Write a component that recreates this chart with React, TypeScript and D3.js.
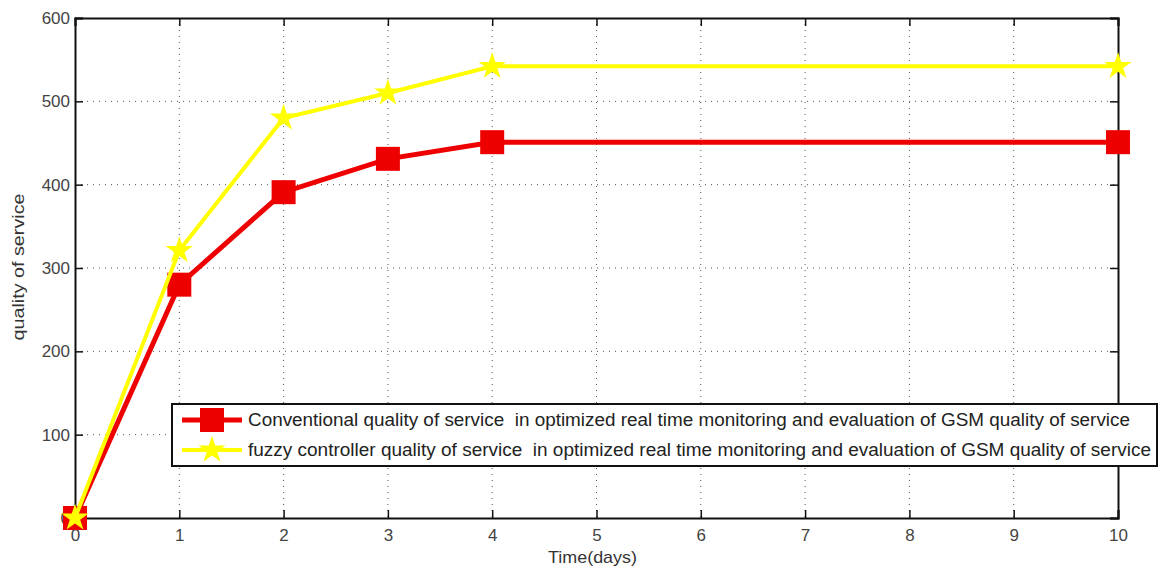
import React, { useEffect, useRef } from "react";
import * as d3 from "d3";

const days = [0, 1, 2, 3, 4, 10];
const conventional = [0, 280, 391, 431, 451, 451];
const fuzzy = [0, 321, 480, 510, 542, 542];
const xTicks = [0, 1, 2, 3, 4, 5, 6, 7, 8, 9, 10];
const yTicks = [0, 100, 200, 300, 400, 500, 600];
const seriesNames = [
  "Conventional quality of service  in optimized real time monitoring and evaluation of GSM quality of service",
  "fuzzy controller quality of service  in optimized real time monitoring and evaluation of GSM quality of service",
];

const W = 1159;
const H = 570;

const App = () => {
  const svgRef = useRef<SVGSVGElement>(null);

  useEffect(() => {
    const svg = d3.select(svgRef.current);
    svg.selectAll("*").remove();

    const margin = { top: 18, right: 41, bottom: 52, left: 75 };
    const width = W - margin.left - margin.right;
    const height = H - margin.top - margin.bottom;
    const font = "'Liberation Sans', Arial, sans-serif";

    const g = svg.append("g").attr("transform", `translate(${margin.left},${margin.top})`);

    const x = d3.scaleLinear().domain([0, 10]).range([0, width]);
    const y = d3.scaleLinear().domain([0, 600]).range([height, 0]);

    // grid
    g.append("g")
      .selectAll("line")
      .data(xTicks.slice(1, -1))
      .join("line")
      .attr("x1", (d) => x(d))
      .attr("x2", (d) => x(d))
      .attr("y1", 0)
      .attr("y2", height)
      .attr("stroke", "#555")
      .attr("stroke-width", 1)
      .attr("stroke-dasharray", "1,5");
    g.append("g")
      .selectAll("line")
      .data(yTicks.slice(1, -1))
      .join("line")
      .attr("x1", 0)
      .attr("x2", width)
      .attr("y1", (d) => y(d))
      .attr("y2", (d) => y(d))
      .attr("stroke", "#555")
      .attr("stroke-width", 1)
      .attr("stroke-dasharray", "1,5");

    // axes with inward ticks
    const xAxis = g.append("g").attr("transform", `translate(0,${height})`)
      .call(d3.axisBottom(x).tickValues(xTicks).tickSize(-8).tickPadding(11).tickFormat(d3.format("d")));
    const xAxisTop = g.append("g").call(d3.axisTop(x).tickValues(xTicks).tickSize(-8).tickFormat(() => ""));
    const yAxis = g.append("g")
      .call(d3.axisLeft(y).tickValues(yTicks).tickSize(-8).tickPadding(5).tickFormat(d3.format("d")));
    const yAxisRight = g.append("g").attr("transform", `translate(${width},0)`)
      .call(d3.axisRight(y).tickValues(yTicks).tickSize(-8).tickFormat(() => ""));

    [xAxis, xAxisTop, yAxis, yAxisRight].forEach((a) => {
      a.select(".domain").attr("stroke", "#111").attr("stroke-width", 2);
      a.selectAll(".tick line").attr("stroke", "#111").attr("stroke-width", 1.5);
      a.selectAll("text").attr("font-family", font).attr("font-size", 17).attr("fill", "#444");
    });

    g.append("text")
      .attr("x", width / 2 - 4)
      .attr("y", height + 45)
      .attr("text-anchor", "middle")
      .attr("font-family", font)
      .attr("font-size", 17)
      .attr("fill", "#333")
      .attr("textLength", 89)
      .attr("lengthAdjust", "spacingAndGlyphs")
      .text("Time(days)");
    g.append("text")
      .attr("transform", `translate(${-51},${height / 2 - 1}) rotate(-90)`)
      .attr("text-anchor", "middle")
      .attr("font-family", font)
      .attr("font-size", 16)
      .attr("fill", "#333")
      .attr("textLength", 147)
      .attr("lengthAdjust", "spacingAndGlyphs")
      .text("quality of service");

    const line = d3.line<number>().x((_, i) => x(days[i])).y((d) => y(d));
    const star = d3.symbol().type(d3.symbolStar).size(230);

    const drawSquare = (sel, cx, cy) =>
      sel.append("rect")
        .attr("x", cx - 12).attr("y", cy - 12)
        .attr("width", 24).attr("height", 24)
        .attr("fill", "#ee0000");

    g.append("path").datum(conventional)
      .attr("fill", "none").attr("stroke", "#ee0000").attr("stroke-width", 5)
      .attr("d", line);
    conventional.forEach((v, i) => drawSquare(g, x(days[i]), y(v)));

    g.append("path").datum(fuzzy)
      .attr("fill", "none").attr("stroke", "#ffff00").attr("stroke-width", 4)
      .attr("d", line);
    fuzzy.forEach((v, i) =>
      g.append("path")
        .attr("d", star)
        .attr("transform", `translate(${x(days[i])},${y(v)})`)
        .attr("fill", "#ffff00")
    );

    // legend
    const lg = svg.append("g").attr("transform", "translate(172,404)");
    lg.append("rect").attr("width", 985).attr("height", 62)
      .attr("fill", "#fff").attr("stroke", "#111").attr("stroke-width", 2);
    const colors = ["#ee0000", "#ffff00"];
    const textLengths = [882, 903];
    seriesNames.forEach((name, i) => {
      const cy = 16 + i * 30;
      lg.append("line").attr("x1", 10).attr("x2", 70).attr("y1", cy).attr("y2", cy)
        .attr("stroke", colors[i]).attr("stroke-width", i === 0 ? 5 : 4);
      if (i === 0) drawSquare(lg, 40, cy);
      else lg.append("path").attr("d", star).attr("transform", `translate(40,${cy})`).attr("fill", colors[i]);
      lg.append("text").attr("x", 76).attr("y", cy + 6)
        .attr("font-family", font).attr("font-size", 17.5).attr("fill", "#222")
        .attr("textLength", textLengths[i]).attr("lengthAdjust", "spacingAndGlyphs")
        .style("white-space", "pre")
        .text(name);
    });
  }, []);

  return (
    <div>
      <svg ref={svgRef} width={W} height={H} style={{ position: "absolute", left: 0, top: 0 }}></svg>
    </div>
  );
};

export default App;
